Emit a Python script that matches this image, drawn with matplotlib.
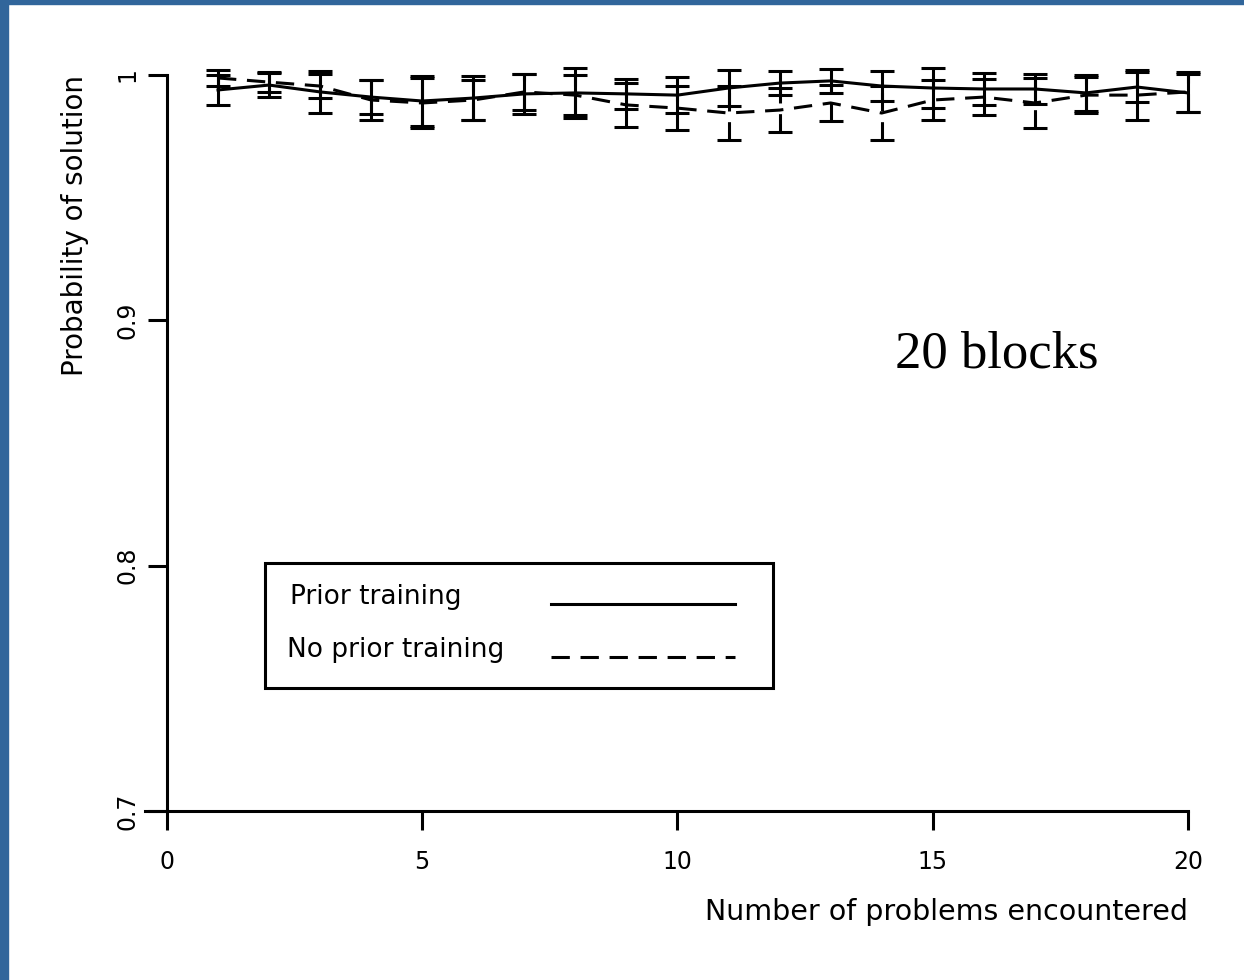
"""
Probability of solution vs number of problems encountered (20 blocks)
"""

import numpy as np
import matplotlib
matplotlib.use("Agg")
import matplotlib.pyplot as plt
from matplotlib.lines import Line2D
from matplotlib.patches import Rectangle

# 数据
problems = np.arange(1, 21)

prior_mean = [0.9939, 0.9959, 0.9931, 0.9910, 0.9894, 0.9906, 0.9923, 0.9927, 0.9923, 0.9918,
              0.9947, 0.9967, 0.9976, 0.9955, 0.9947, 0.9943, 0.9943, 0.9927, 0.9951, 0.9927]
prior_err = [0.0061, 0.0049, 0.0086, 0.0069, 0.0102, 0.0090, 0.0082, 0.0102, 0.0061, 0.0073,
             0.0073, 0.0049, 0.0049, 0.0061, 0.0082, 0.0065, 0.0061, 0.0073, 0.0061, 0.0077]

noprior_mean = [0.9988, 0.9971, 0.9955, 0.9898, 0.9886, 0.9898, 0.9931, 0.9918, 0.9878, 0.9865,
                0.9845, 0.9857, 0.9886, 0.9845, 0.9898, 0.9910, 0.9886, 0.9918, 0.9918, 0.9931]
noprior_err = [0.0033, 0.0041, 0.0049, 0.0082, 0.0102, 0.0082, 0.0073, 0.0082, 0.0090, 0.0090,
               0.0110, 0.0090, 0.0073, 0.0110, 0.0082, 0.0073, 0.0102, 0.0073, 0.0102, 0.0082]

x_ticks = [0, 5, 10, 15, 20]
y_ticks = [0.7, 0.8, 0.9, 1.0]
y_tick_labels = ['0.7', '0.8', '0.9', '1']
series_labels = ['Prior training', 'No prior training']

W, H = 1244, 980
fig = plt.figure(figsize=(W / 100, H / 100), dpi=100)
fig.patch.set_facecolor('white')


def fx(px):
    return px / W


def fy(py):
    return 1 - py / H


# 蓝色边框（左、上）
border = '#31669b'
fig.patches.append(Rectangle((0, 0), fx(8), 1, transform=fig.transFigure, color=border, zorder=0))
fig.patches.append(Rectangle((0, fy(4)), 1, 4 / H, transform=fig.transFigure, color=border, zorder=0))

ax = fig.add_axes([fx(145), fy(811), fx(1188) - fx(145), fy(75) - fy(811)])
ax.set_xlim(-0.43, 20)
ax.set_ylim(0.7, 1.0)

lw = 2.2
dash = (0, (6, 3.5))

# 有先验训练（实线）
ax.errorbar(problems, prior_mean, yerr=prior_err, color='black', lw=lw,
            elinewidth=lw, capsize=8.5, capthick=lw, clip_on=False, zorder=3)

# 无先验训练（虚线）
_, _, bars = ax.errorbar(problems, noprior_mean, yerr=noprior_err, color='black', lw=lw,
                         ls=dash, elinewidth=lw, capsize=8.5, capthick=lw,
                         clip_on=False, zorder=3)
for b in bars:
    b.set_linestyle(dash)
    b.set_clip_on(False)

# 坐标轴样式
for s in ['top', 'right']:
    ax.spines[s].set_visible(False)
ax.spines['left'].set_position(('data', 0))
ax.spines['left'].set_bounds(0.7, 1.0)
ax.spines['left'].set_linewidth(2.2)
ax.spines['bottom'].set_linewidth(2.2)

ax.set_xticks(x_ticks)
ax.set_xticklabels([str(t) for t in x_ticks])
ax.set_yticks(y_ticks)
ax.set_yticklabels(y_tick_labels, rotation=90, va='center')
ax.tick_params(axis='both', direction='out', length=14, width=2.2, labelsize=17)
ax.tick_params(axis='x', pad=14)
ax.tick_params(axis='y', pad=6)

fig.text(fx(1188), fy(912), 'Number of problems encountered', ha='right', va='center',
         fontsize=20.5)
fig.text(fx(75), fy(75), 'Probability of solution', rotation=90, ha='center', va='top',
         fontsize=20)

fig.text(fx(895), fy(355), '20 blocks', family='Liberation Serif', fontsize=38,
         ha='left', va='center')

# 图例（手工绘制：文字在左、线在右）
fig.patches.append(Rectangle((fx(265), fy(688)), fx(773) - fx(265), fy(563) - fy(688),
                             transform=fig.transFigure, fill=False, edgecolor='black',
                             linewidth=2.2, zorder=4))
legend_styles = ['-', dash]
legend_text_y = [597, 650]
legend_line_y = [604, 657]
legend_text_x = [290, 287]
for label, style, ty, ly, tx in zip(series_labels, legend_styles, legend_text_y,
                                    legend_line_y, legend_text_x):
    fig.text(fx(tx), fy(ty), label, fontsize=19, ha='left', va='center')
    fig.lines.append(Line2D([fx(551), fx(735)], [fy(ly), fy(ly)], transform=fig.transFigure,
                            color='black', lw=lw, ls=style))

fig.savefig('out.png', dpi=100)
